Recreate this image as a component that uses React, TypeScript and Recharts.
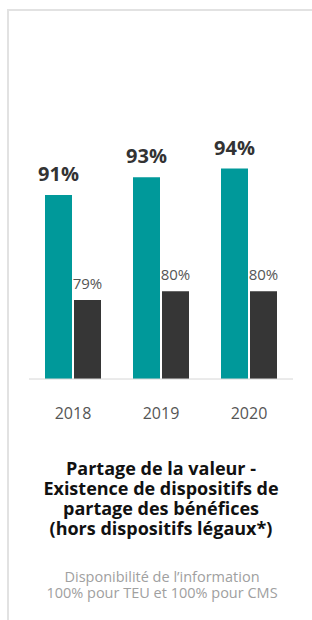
import React from 'react';
import { BarChart, Bar, XAxis, YAxis, LabelList } from 'recharts';

const years = ['2018', '2019', '2020'];
const teuValues = [91, 93, 94];
const cmsValues = [79, 80, 80];

const titleLines = [
  'Partage de la valeur -',
  'Existence de dispositifs de',
  'partage des bénéfices',
  '(hors dispositifs légaux*)',
];
const noteLines = ['Disponibilité de l’information', '100% pour TEU et 100% pour CMS'];

const FONT = '"Open Sans", "DejaVu Sans", sans-serif';

export default function App() {
  const chartData = years.map((year, i) => ({
    year,
    teu: teuValues[i],
    cms: cmsValues[i],
  }));

  return (
    <div style={{ position: 'fixed', left: 0, top: 0, width: 312, height: 620, overflow: 'hidden', background: '#fff', fontFamily: FONT }}>
      {/* card frame: only the top and left edges show */}
      <div
        style={{
          position: 'absolute',
          left: 7,
          top: 9,
          width: 320,
          height: 640,
          borderTop: '2px solid #e2e2e2',
          borderLeft: '2px solid #e2e2e2',
        }}
      />
      <div style={{ position: 'absolute', left: 0, top: 0 }}>
        <BarChart
          width={312}
          height={430}
          data={chartData}
          margin={{ top: 116, right: 19, bottom: 21, left: 29 }}
          barCategoryGap={16}
          barGap={2}
        >
          <XAxis
            dataKey="year"
            height={30}
            axisLine={{ stroke: '#d6d6d6', strokeWidth: 1 }}
            tickLine={false}
            tickSize={0}
            tickMargin={29}
            tick={{ fill: '#555', fontSize: 16, fontFamily: FONT }}
          />
          <YAxis hide domain={[70, 100]} allowDataOverflow />
          <Bar dataKey="teu" fill="#00999a" isAnimationActive={false}>
            <LabelList
              dataKey="teu"
              position="top"
              offset={14}
              formatter={(v: any) => `${v}%`}
              style={{ fill: '#333', fontSize: 20, fontWeight: 700, fontFamily: FONT }}
            />
          </Bar>
          <Bar dataKey="cms" fill="#363636" isAnimationActive={false}>
            <LabelList
              dataKey="cms"
              position="top"
              offset={11}
              formatter={(v: any) => `${v}%`}
              style={{ fill: '#555', fontSize: 15, fontFamily: FONT }}
            />
          </Bar>
        </BarChart>
      </div>
      <div
        style={{
          position: 'absolute',
          left: 10,
          top: 458,
          width: 302,
          textAlign: 'center',
          color: '#111',
          fontWeight: 700,
          fontSize: 18,
          lineHeight: '20px',
        }}
      >
        {titleLines.map((line) => (
          <div key={line}>{line}</div>
        ))}
      </div>
      <div
        style={{
          position: 'absolute',
          left: 10,
          top: 569,
          width: 304,
          textAlign: 'center',
          color: '#a0a0a0',
          fontSize: 14.5,
          lineHeight: '16px',
        }}
      >
        {noteLines.map((line) => (
          <div key={line}>{line}</div>
        ))}
      </div>
    </div>
  );
}
